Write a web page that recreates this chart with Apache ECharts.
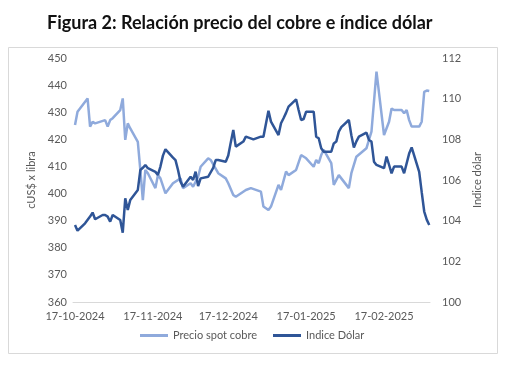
<!DOCTYPE html>
<html>
<head>
<meta charset="utf-8">
<script src="https://cdn.jsdelivr.net/npm/echarts@6/dist/echarts.min.js"></script>
<style>html,body{margin:0;padding:0;background:#fff;}#c{width:510px;height:382px;}</style>
</head>
<body>
<div id="c"></div>
<script>
const titleText = 'Figura 2: Relación precio del cobre e índice dólar';
const seriesNames = ['Precio spot cobre', 'Indice Dólar'];
const tickDates = ['2024-10-17','2024-11-17','2024-12-17','2025-01-17','2025-02-17'];
const tickLabels = ['17-10-2024','17-11-2024','17-12-2024','17-01-2025','17-02-2025'];

const copperDates = ['2024-10-17','2024-10-18','2024-10-22','2024-10-23','2024-10-24','2024-10-25','2024-10-29','2024-10-30','2024-10-31',
'2024-11-01','2024-11-04','2024-11-05','2024-11-06','2024-11-07','2024-11-08','2024-11-11','2024-11-12','2024-11-13','2024-11-14','2024-11-15','2024-11-18','2024-11-19','2024-11-20','2024-11-22','2024-11-25','2024-11-28','2024-11-29',
'2024-12-02','2024-12-03','2024-12-05','2024-12-06','2024-12-09','2024-12-10','2024-12-13','2024-12-16','2024-12-17','2024-12-19','2024-12-20','2024-12-24','2024-12-26','2024-12-30','2024-12-31',
'2025-01-02','2025-01-03','2025-01-06','2025-01-07','2025-01-09','2025-01-10','2025-01-13','2025-01-15','2025-01-17','2025-01-20','2025-01-21','2025-01-22','2025-01-23','2025-01-24','2025-01-27','2025-01-28','2025-01-30',
'2025-02-03','2025-02-04','2025-02-06','2025-02-10','2025-02-11','2025-02-12','2025-02-14','2025-02-17','2025-02-19','2025-02-20','2025-02-21','2025-02-24','2025-02-25','2025-02-26','2025-02-27','2025-02-28',
'2025-03-03','2025-03-04','2025-03-05','2025-03-06','2025-03-07'];
const copperValues = [425.3,430.2,435.1,424.7,426.5,425.9,427.1,424.7,427.1,
427.8,430.8,435.1,419.8,425.9,424,419.1,408.7,397.6,408.7,407.5,402,406.8,405.6,400.1,403.8,405.6,402,
403.8,402.5,406.2,409.9,413,412.4,407.5,405.6,403.8,399.5,398.8,401.3,402,400.7,395.2,
393.9,395.2,403.2,401.3,408.1,406.8,408.7,414.2,413,409.9,412.4,411.2,414.2,416.1,411.2,403.2,406.8,
402,407.5,413.6,416.7,419.8,422.8,445,421.6,426.5,431.4,430.8,430.8,429.6,430.8,427.1,424.7,
424.7,426.5,437.5,438,437.8];

const dollarDates = ['2024-10-17','2024-10-18','2024-10-21','2024-10-23','2024-10-24','2024-10-25','2024-10-28','2024-10-29','2024-10-30','2024-10-31',
'2024-11-01','2024-11-04','2024-11-05','2024-11-06','2024-11-07','2024-11-08','2024-11-11','2024-11-12','2024-11-13','2024-11-14','2024-11-15','2024-11-18','2024-11-19','2024-11-20','2024-11-21','2024-11-22','2024-11-25','2024-11-26','2024-11-27','2024-11-28','2024-11-29',
'2024-12-02','2024-12-03','2024-12-04','2024-12-05','2024-12-06','2024-12-09','2024-12-11','2024-12-12','2024-12-13','2024-12-16','2024-12-17','2024-12-18','2024-12-19','2024-12-20','2024-12-23','2024-12-24','2024-12-27','2024-12-30','2024-12-31',
'2025-01-02','2025-01-03','2025-01-06','2025-01-07','2025-01-08','2025-01-09','2025-01-10','2025-01-13','2025-01-14','2025-01-15','2025-01-16','2025-01-17','2025-01-20','2025-01-21','2025-01-22','2025-01-23','2025-01-24','2025-01-27','2025-01-28','2025-01-29','2025-01-30','2025-01-31',
'2025-02-03','2025-02-04','2025-02-05','2025-02-06','2025-02-07','2025-02-10','2025-02-11','2025-02-12','2025-02-13','2025-02-14','2025-02-17','2025-02-18','2025-02-19','2025-02-20','2025-02-21','2025-02-24','2025-02-25','2025-02-27','2025-02-28',
'2025-03-03','2025-03-04','2025-03-05','2025-03-06','2025-03-07'];
const dollarValues = [103.79,103.51,103.87,104.2,104.4,104.07,104.28,104.28,104.2,103.95,
104.28,104.03,103.41,105.1,104.53,105.02,105.51,106.49,106.6,106.74,106.58,106.4,106.25,106.66,107.2,107.51,107.1,106.98,106.49,105.92,105.67,
106.16,106.0,106.41,105.7,106.08,106.16,106.6,106.98,106.98,106.9,107.2,107.85,108.46,107.64,107.89,108.13,108.0,108.13,108.13,
109.41,108.87,108.21,108.79,109.04,109.3,109.61,109.97,109.44,108.95,109.0,109.36,109.36,108.13,108.05,107.56,107.39,107.39,107.8,107.89,108.38,108.6,
108.95,108.2,107.6,107.9,108.13,108.33,107.97,107.89,106.9,106.74,106.58,107.15,106.75,106.33,106.66,106.66,106.33,107.3,107.6,
106.4,105.4,104.45,104.05,103.79];

const DAY = 86400000;
const ts = s => Date.UTC(+s.slice(0, 4), +s.slice(5, 7) - 1, +s.slice(8, 10));
const tickTs = tickDates.map(ts);
const copperData = copperDates.map((d, i) => [ts(d), copperValues[i]]);
const dollarData = dollarDates.map((d, i) => [ts(d), dollarValues[i]]);

const FONT = 'Lato';
const GRAY = '#595959';
const chart = echarts.init(document.getElementById('c'), null, {renderer: 'canvas'});
chart.setOption({
  animation: false,
  backgroundColor: '#fff',
  title: {
    text: titleText, left: 42, top: 9,
    textStyle: {fontFamily: FONT, fontWeight: 'bold', fontSize: 18, color: '#111'}
  },
  graphic: [{
    type: 'rect', shape: {x: 8.5, y: 47.5, width: 489, height: 306},
    style: {fill: 'none', stroke: '#d9d9d9', lineWidth: 1}, silent: true, z: -1
  }],
  legend: {
    bottom: 36, left: 135, itemGap: 16, itemWidth: 28, itemHeight: 3, icon: 'rect',
    textStyle: {fontFamily: FONT, fontSize: 11, color: GRAY},
    data: seriesNames
  },
  grid: {left: 73, right: 80, top: 58, bottom: 80},
  xAxis: {
    type: 'value',
    min: ts(copperDates[0]) - 0.8 * DAY,
    max: ts(copperDates[copperDates.length - 1]) + 0.3 * DAY,
    splitLine: {show: false},
    axisLine: {lineStyle: {color: '#d9d9d9', width: 1}},
    axisTick: {show: false},
    axisLabel: {
      customValues: tickTs, fontFamily: FONT, fontSize: 11, color: GRAY, margin: 9,
      showMinLabel: true, showMaxLabel: true,
      formatter: v => { const i = tickTs.indexOf(v); return i >= 0 ? tickLabels[i] : ''; }
    }
  },
  yAxis: [{
    type: 'value', min: 360, max: 450, interval: 10,
    name: 'cUS$ x libra', nameLocation: 'middle', nameGap: 36, nameRotate: 90,
    nameTextStyle: {fontFamily: FONT, fontSize: 11, color: GRAY},
    splitLine: {show: false}, axisLine: {show: false}, axisTick: {show: false},
    axisLabel: {fontFamily: FONT, fontSize: 11, color: GRAY, margin: 6}
  }, {
    type: 'value', min: 100, max: 112, interval: 2,
    name: 'Indice dólar', nameLocation: 'middle', nameGap: 38, nameRotate: 90,
    nameTextStyle: {fontFamily: FONT, fontSize: 11, color: GRAY},
    splitLine: {show: false}, axisLine: {show: false}, axisTick: {show: false},
    axisLabel: {fontFamily: FONT, fontSize: 11, color: GRAY, margin: 12}
  }],
  series: [{
    name: seriesNames[0], type: 'line', yAxisIndex: 0, data: copperData,
    showSymbol: false, symbol: 'none', lineStyle: {color: '#8FAADC', width: 2.5}, itemStyle: {color: '#8FAADC'}
  }, {
    name: seriesNames[1], type: 'line', yAxisIndex: 1, data: dollarData,
    showSymbol: false, symbol: 'none', lineStyle: {color: '#2F5597', width: 2.5}, itemStyle: {color: '#2F5597'}
  }]
});
</script>
</body>
</html>
